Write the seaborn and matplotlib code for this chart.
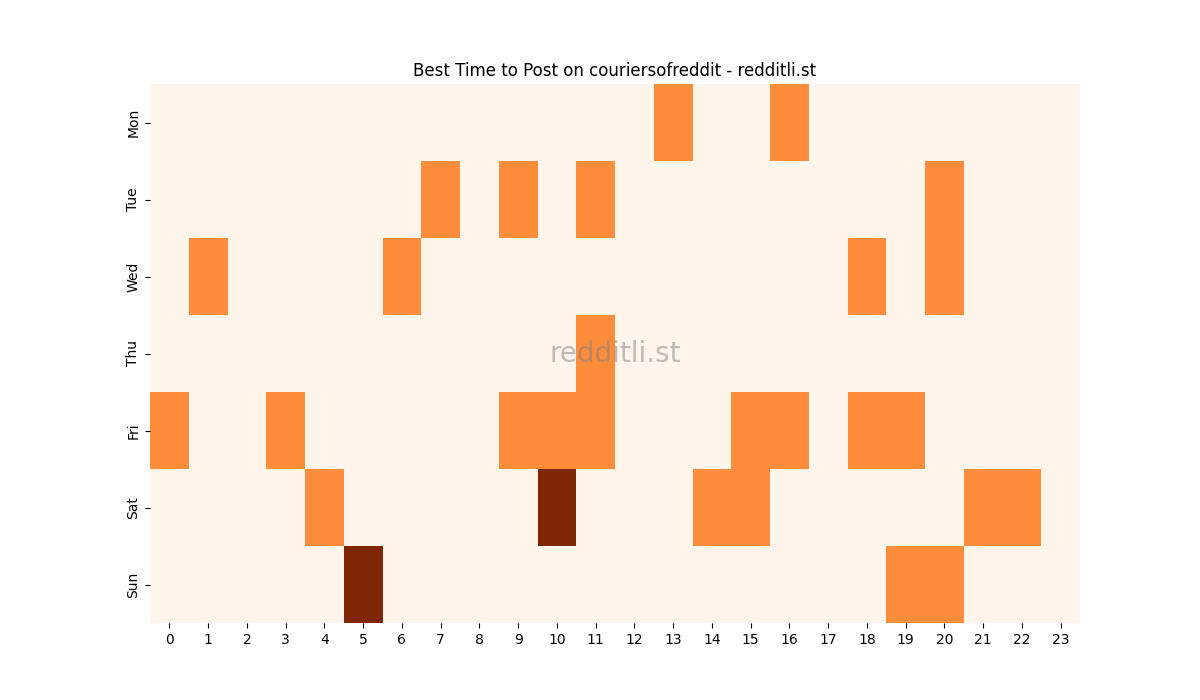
import matplotlib
matplotlib.use("Agg")
import matplotlib.pyplot as plt
import seaborn as sns
import numpy as np
import pandas as pd

days = ["Mon", "Tue", "Wed", "Thu", "Fri", "Sat", "Sun"]
hours = list(range(24))

mon = [0]*13 + [1, 0, 0, 1] + [0]*7
tue = [0, 0, 0, 0, 0, 0, 0, 1, 0, 1, 0, 1, 0, 0, 0, 0, 0, 0, 0, 0, 1, 0, 0, 0]
wed = [0, 1, 0, 0, 0, 0, 1, 0, 0, 0, 0, 0, 0, 0, 0, 0, 0, 0, 1, 0, 1, 0, 0, 0]
thu = [0, 0, 0, 0, 0, 0, 0, 0, 0, 0, 0, 1, 0, 0, 0, 0, 0, 0, 0, 0, 0, 0, 0, 0]
fri = [1, 0, 0, 1, 0, 0, 0, 0, 0, 1, 1, 1, 0, 0, 0, 1, 1, 0, 1, 1, 0, 0, 0, 0]
sat = [0, 0, 0, 0, 1, 0, 0, 0, 0, 0, 2, 0, 0, 0, 1, 1, 0, 0, 0, 0, 0, 1, 1, 0]
sun = [0, 0, 0, 0, 0, 2, 0, 0, 0, 0, 0, 0, 0, 0, 0, 0, 0, 0, 0, 1, 1, 0, 0, 0]

df = pd.DataFrame([mon, tue, wed, thu, fri, sat, sun], index=days, columns=hours)

fig, ax = plt.subplots(figsize=(12, 7), dpi=100)
sns.heatmap(df, cmap="Oranges", cbar=False, ax=ax)
ax.set_title("Best Time to Post on couriersofreddit - redditli.st")
ax.text(0.5, 0.5, "redditli.st", transform=ax.transAxes, ha="center", va="center",
        fontsize=20, color="gray", alpha=0.5)
fig.savefig("out.png")
